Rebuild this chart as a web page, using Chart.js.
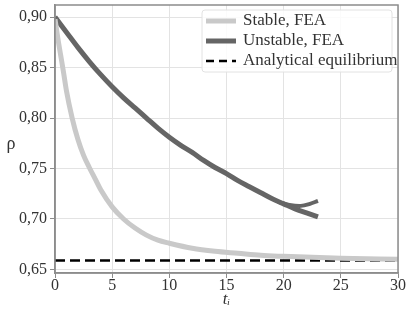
<!DOCTYPE html>
<html>
<head>
<meta charset="utf-8">
<script src="https://cdn.jsdelivr.net/npm/chart.js@4"></script>
<style>
  html, body { margin: 0; padding: 0; background: #fff; }
  #wrap { width: 406px; height: 311px; }
</style>
</head>
<body>
<div id="wrap"><canvas id="rhoChart" width="406" height="311"></canvas></div>
<script>
// values
const stableT = [0, 0.25, 0.5, 0.75, 1, 1.5, 2, 2.5, 3, 3.5, 4, 5, 6, 7, 8, 9, 10, 12, 14, 16, 18, 20, 25, 30];
const stableRho = [0.898, 0.879, 0.862, 0.845, 0.827, 0.800, 0.779, 0.763, 0.751, 0.740, 0.729, 0.712, 0.700, 0.691, 0.684, 0.679, 0.676, 0.671, 0.668, 0.666, 0.664, 0.663, 0.661, 0.660];

const unstableT = [0, 1, 2, 3, 4, 5, 6, 7, 8, 9, 10, 11, 12, 13, 14, 15, 16, 17, 18, 19, 20, 21, 22, 23];
const unstableRho = [0.900, 0.885, 0.870, 0.856, 0.843, 0.831, 0.820, 0.810, 0.800, 0.790, 0.781, 0.773, 0.766, 0.758, 0.751, 0.745, 0.738, 0.732, 0.726, 0.720, 0.715, 0.710, 0.706, 0.702];

// second branch of the unstable run, splitting off near t = 20
const branchT = [19.5, 20.5, 21.5, 22.3, 23];
const branchRho = [0.717, 0.714, 0.713, 0.715, 0.718];

const equilT = [0, 30];
const equilRho = [0.659, 0.659];

const xTicks = [0, 5, 10, 15, 20, 25, 30];
const yTicks = [0.65, 0.70, 0.75, 0.80, 0.85, 0.90];

const legendLabels = ['Stable, FEA', 'Unstable, FEA', 'Analytical equilibrium'];

const SERIF = "'Liberation Serif', 'Times New Roman', serif";
const lightGrey = '#c9c9c9';
const darkGrey = '#656565';
const frameGrey = '#8c8c8c';

function pts(xs, ys) {
    return xs.map((x, i) => ({ x: x, y: ys[i] }));
}

// frame round the plot, the rho label and the legend inside the plot
const extras = {
    id: 'extras',
    afterDraw(chart) {
        const ctx = chart.ctx;
        const a = chart.chartArea;
        ctx.save();
        ctx.strokeStyle = frameGrey;
        ctx.lineWidth = 1.5;
        ctx.strokeRect(a.left, a.top, a.right - a.left, a.bottom - a.top);

        ctx.fillStyle = '#333';
        ctx.font = '18px ' + SERIF;
        ctx.textAlign = 'center';
        ctx.textBaseline = 'middle';
        ctx.fillText('ρ', 11, 144);

        // legend
        const bx = 202, by = 10, bw = 190, bh = 62;
        ctx.fillStyle = 'rgba(255,255,255,0.85)';
        ctx.strokeStyle = '#e2e2e2';
        ctx.lineWidth = 1;
        ctx.beginPath();
        ctx.roundRect(bx, by, bw, bh, 3);
        ctx.fill();
        ctx.stroke();

        const styles = [
            { color: lightGrey, width: 5, dash: [] },
            { color: darkGrey, width: 5, dash: [] },
            { color: '#000', width: 2.5, dash: [8, 5] }
        ];
        ctx.font = '17px ' + SERIF;
        ctx.textAlign = 'left';
        legendLabels.forEach((label, i) => {
            const y = 21 + i * 20;
            const s = styles[i];
            ctx.beginPath();
            ctx.setLineDash(s.dash);
            ctx.strokeStyle = s.color;
            ctx.lineWidth = s.width;
            ctx.moveTo(206, y);
            ctx.lineTo(236, y);
            ctx.stroke();
            ctx.setLineDash([]);
            ctx.fillStyle = '#333';
            ctx.fillText(label, 243, y);
        });
        ctx.restore();
    }
};

const ctx = document.getElementById('rhoChart').getContext('2d');
new Chart(ctx, {
    type: 'line',
    data: {
        datasets: [
            {
                label: legendLabels[0],
                data: pts(stableT, stableRho),
                borderColor: lightGrey,
                borderWidth: 5,
                pointRadius: 0,
                cubicInterpolationMode: 'monotone'
            },
            {
                label: legendLabels[1],
                data: pts(unstableT, unstableRho),
                borderColor: darkGrey,
                borderWidth: 5,
                pointRadius: 0,
                cubicInterpolationMode: 'monotone'
            },
            {
                label: '',
                data: pts(branchT, branchRho),
                borderColor: darkGrey,
                borderWidth: 4,
                pointRadius: 0,
                tension: 0.4
            },
            {
                label: legendLabels[2],
                data: pts(equilT, equilRho),
                borderColor: '#000',
                borderWidth: 2.5,
                borderDash: [10, 5],
                pointRadius: 0
            }
        ]
    },
    options: {
        responsive: false,
        animation: false,
        layout: {
            padding: { left: 16, top: 5, right: 4, bottom: 0 }
        },
        plugins: {
            legend: { display: false },
            tooltip: { enabled: false }
        },
        scales: {
            x: {
                type: 'linear',
                min: 0,
                max: 30,
                afterBuildTicks: scale => {
                    scale.ticks = xTicks.map(v => ({ value: v }));
                },
                ticks: {
                    color: '#333',
                    font: { family: SERIF, size: 16, lineHeight: 1 },
                    padding: 0,
                    maxRotation: 0
                },
                grid: {
                    color: '#e3e3e3',
                    tickColor: frameGrey,
                    tickLength: 5
                },
                border: { color: frameGrey, width: 1.5 },
                title: {
                    display: true,
                    text: 'tᵢ',
                    color: '#333',
                    font: { family: SERIF, size: 17, style: 'italic', lineHeight: 1 },
                    padding: { top: -3, bottom: 3 }
                }
            },
            y: {
                type: 'linear',
                min: 0.6465,
                max: 0.912,
                afterBuildTicks: scale => {
                    scale.ticks = yTicks.map(v => ({ value: v }));
                },
                afterFit: scale => {
                    scale.paddingTop = 0;
                    scale.paddingBottom = 0;
                },
                ticks: {
                    color: '#333',
                    font: { family: SERIF, size: 16 },
                    padding: 3,
                    callback: v => v.toFixed(2).replace('.', ',')
                },
                grid: {
                    color: '#e3e3e3',
                    tickColor: frameGrey,
                    tickLength: 5
                },
                border: { color: frameGrey, width: 1.5 }
            }
        }
    },
    plugins: [extras]
});
</script>
</body>
</html>
